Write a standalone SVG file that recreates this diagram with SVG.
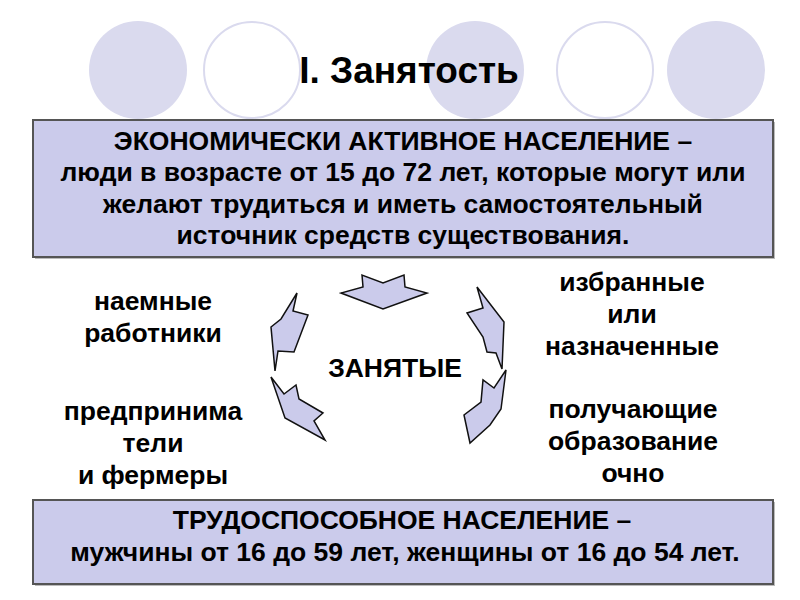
<svg xmlns="http://www.w3.org/2000/svg" width="800" height="600" viewBox="0 0 800 600">
<style>
text{font-family:"Liberation Sans",Arial,sans-serif;font-weight:bold;fill:#000;text-anchor:middle}
.t{font-size:26.5px}
.title{font-size:37px}
.cf{fill:#dadaee;stroke:none}
.co{fill:#fff;stroke:#dadaee;stroke-width:2}
.box{fill:#cbcbeb;stroke:#555;stroke-width:2}
.sh{fill:#bbb}
.arr{fill:#cbcbeb;stroke:#111;stroke-width:1.5;stroke-linejoin:miter}
</style>
<rect width="800" height="600" fill="#fff"/>
<g id="decor">
<circle class="cf" cx="138" cy="70" r="49"/>
<circle class="co" cx="252" cy="70" r="48"/>
<circle class="cf" cx="475" cy="70" r="49"/>
<circle class="co" cx="605" cy="70" r="48"/>
<circle class="cf" cx="716" cy="70" r="49"/>
</g>
<g id="title"><text class="title" x="409" y="83">I. Занятость</text></g>
<g id="box-active">
<rect class="sh" x="35" y="122" width="740" height="137"/>
<rect class="box" x="33" y="120" width="740" height="137"/>
<text class="t" x="403" y="150">ЭКОНОМИЧЕСКИ АКТИВНОЕ НАСЕЛЕНИЕ –</text>
<text class="t" x="403" y="181">люди в возрасте от 15 до 72 лет, которые могут или</text>
<text class="t" x="403" y="212.5">желают трудиться и иметь самостоятельный</text>
<text class="t" x="403" y="244">источник средств существования.</text>
</g>
<g id="connectors">
<polygon class="arr" points="362,275 363,287 341,293 383,309 427,293 405,287 404,275 383,283"/>
<polygon class="arr" points="297,293 293,311 308,315 294,352 278,351 275,371 271,327 281,319"/>
<polygon class="arr" points="271,377 284,394 296,385 299,399 323,413 314,421 325,440 285,418"/>
<polygon class="arr" points="477,287 504,322 502,369 496,353 487,352 483,337 467,313 483,308"/>
<polygon class="arr" points="506,370 501,409 490,425 470,443 464,415 481,402 483,380 494,388"/>
</g>
<g id="center"><text class="t" x="395" y="377">ЗАНЯТЫЕ</text></g>
<g id="hired">
<text class="t" x="153" y="310">наемные</text>
<text class="t" x="153" y="342">работники</text>
</g>
<g id="entrepreneurs">
<text class="t" x="153" y="420">предпринима</text>
<text class="t" x="153" y="452">тели</text>
<text class="t" x="153" y="484">и фермеры</text>
</g>
<g id="elected">
<text class="t" x="632" y="291">избранные</text>
<text class="t" x="632" y="323">или</text>
<text class="t" x="632" y="355">назначенные</text>
</g>
<g id="students">
<text class="t" x="633" y="418">получающие</text>
<text class="t" x="633" y="450">образование</text>
<text class="t" x="633" y="482">очно</text>
</g>
<g id="box-able">
<rect class="sh" x="35" y="502" width="740" height="84"/>
<rect class="box" x="33" y="500" width="740" height="84"/>
<text class="t" x="402" y="529">ТРУДОСПОСОБНОЕ НАСЕЛЕНИЕ –</text>
<text class="t" x="405" y="561">мужчины от 16 до 59 лет, женщины от 16 до 54 лет.</text>
</g>
</svg>
